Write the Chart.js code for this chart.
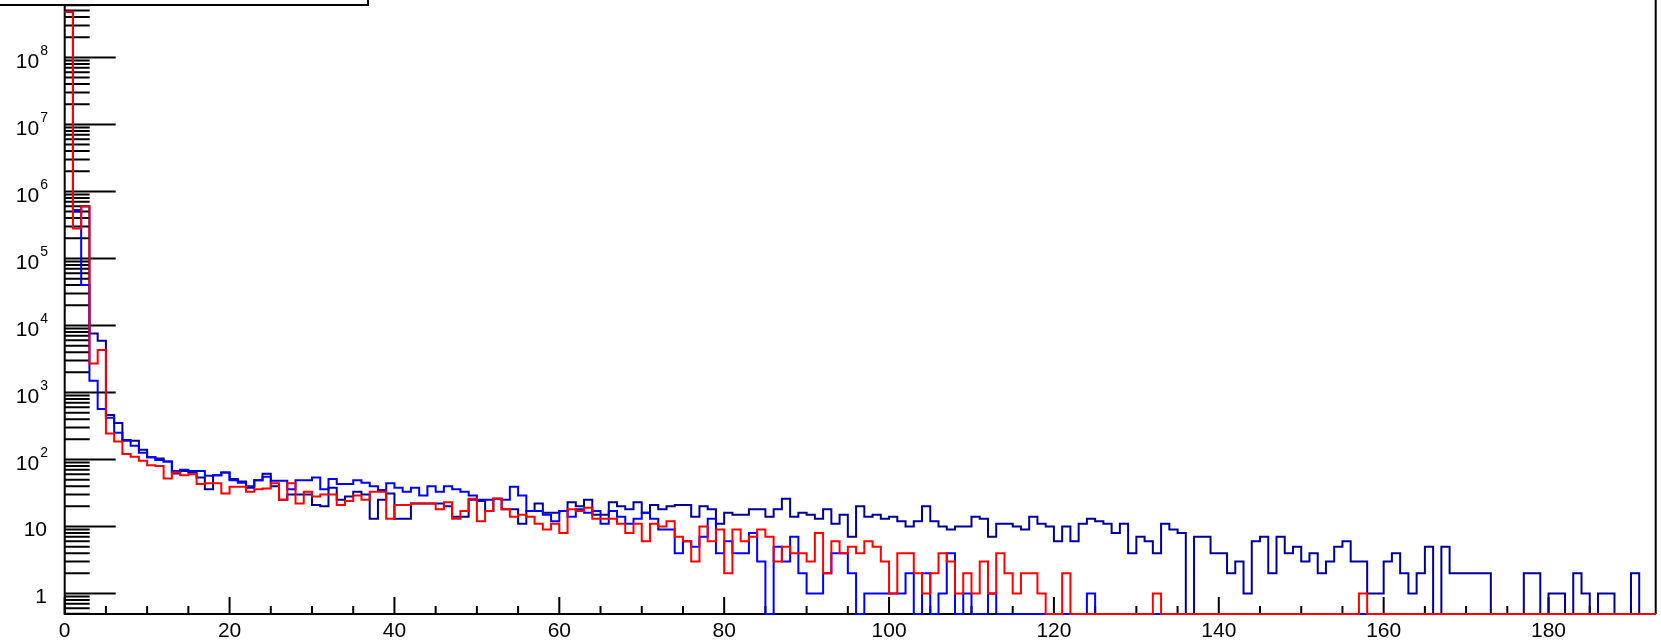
<!DOCTYPE html>
<html>
<head>
<meta charset="utf-8">
<script src="https://cdn.jsdelivr.net/npm/chart.js@4.4.1/dist/chart.umd.min.js"></script>
<style>
  html, body { margin: 0; padding: 0; background: #fff; }
  canvas { display: block; }
</style>
</head>
<body>
<canvas id="hist" width="1661" height="643"></canvas>
<script>
// one entry per unit-wide bin, bins 0 .. 192
const navyCounts = [
  4.8e8, 5e5, 6e5, 7600, 5900, 460, 350, 195, 190, 140,
  108, 103, 93, 62, 67, 64, 54, 36, 58, 64,
  51, 47, 38, 49, 61, 40, 25, 30, 30, 30,
  21, 20, 38, 25, 28, 33, 30, 13, 25, 31,
  13, 13, 22, 22, 22, 22, 20, 14, 14, 25,
  24, 17, 26, 18, 18, 11, 17, 22, 16, 16,
  17, 23, 20, 25, 15, 15, 23, 20, 18, 23,
  16, 21, 18, 20, 21, 21, 14, 20, 18, 11,
  16, 15, 15, 18, 18, 14, 18, 26, 14, 16,
  15, 13, 18, 11, 15, 7, 20, 14, 15, 13,
  14, 12, 10, 12, 20, 12, 10, 9, 10, 10,
  14, 13, 7, 11, 11, 10, 9, 14, 11, 10,
  6, 10, 6, 11, 13, 12, 11, 8, 11, 4,
  7, 6, 4, 11, 9, 8, 0, 7, 7, 4,
  4, 2, 3, 1, 6, 7, 2, 7, 4, 5,
  3, 4, 2, 3, 5, 6, 3, 3, 1, 1,
  3, 4, 2, 1, 2, 5, 0, 5, 2, 2,
  2, 2, 2, 0, 0, 0, 0, 2, 2, 0,
  1, 1, 0, 2, 1, 0, 1, 1, 0, 0,
  2, 0, 0
];

const blueCounts = [
  4.8e8, 5.3e5, 4e4, 1500, 565, 420, 250, 190, 160, 126,
  108, 98, 93, 67, 70, 67, 67, 57, 58, 64,
  49, 45, 40, 49, 55, 48, 48, 36, 49, 49,
  54, 36, 51, 43, 43, 49, 45, 40, 35, 44,
  38, 33, 38, 29, 40, 33, 40, 36, 33, 29,
  25, 25, 26, 25, 39, 29, 17, 17, 15, 12,
  17, 14, 18, 16, 17, 11, 17, 14, 11, 13,
  16, 13, 9, 9, 4, 6, 5, 7, 13, 4,
  6, 4, 4, 8, 3, 0, 5, 3, 7, 2,
  1, 1, 2, 4, 4, 2, 0, 1, 1, 1,
  1, 1, 2, 0, 2, 0, 1, 4, 0, 1,
  0, 0, 1, 0, 0, 0, 0, 0, 0, 0,
  0, 0, 0, 0, 1, 0, 0, 0, 0, 0,
  0, 0, 0, 0, 0, 0, 0, 0, 0, 0,
  0, 0, 0, 0, 0, 0, 0, 0, 0, 0,
  0, 0, 0, 0, 0, 0, 0, 0, 0, 0,
  0, 0, 0, 0, 0, 0, 0, 0, 0, 0,
  0, 0, 0, 0, 0, 0, 0, 0, 0, 0,
  0, 0, 0, 0, 0, 0, 0, 0, 0, 0,
  0, 0, 0
];

const redCounts = [
  4.8e8, 2.8e5, 6e5, 2700, 4300, 245, 185, 121, 110, 96,
  82, 80, 52, 64, 58, 60, 43, 44, 44, 31,
  39, 39, 33, 36, 37, 44, 25, 44, 22, 33,
  28, 30, 30, 21, 24, 29, 25, 33, 33, 13,
  21, 21, 22, 22, 22, 18, 23, 13, 17, 26,
  12, 17, 26, 18, 14, 15, 14, 11, 9, 11,
  8, 18, 17, 19, 13, 13, 13, 11, 8, 11,
  6, 11, 10, 12, 7, 6, 3, 10, 6, 9,
  2, 9, 6, 7, 9, 7, 3, 5, 4, 4,
  3, 8, 2, 6, 4, 5, 4, 6, 5, 3,
  1, 4, 4, 2, 1, 2, 4, 3, 1, 2,
  1, 3, 1, 4, 2, 1, 2, 2, 1, 0,
  0, 2, 0, 0, 0, 0, 0, 0, 0, 0,
  0, 0, 1, 0, 0, 0, 0, 0, 0, 0,
  0, 0, 0, 0, 0, 0, 0, 0, 0, 0,
  0, 0, 0, 0, 0, 0, 0, 1, 0, 0,
  0, 0, 0, 0, 0, 0, 0, 0, 0, 0,
  0, 0, 0, 0, 0, 0, 0, 0, 0, 0,
  0, 0, 0, 0, 0, 0, 0, 0, 0, 0,
  0, 0, 0
];

const xTickLabels = [0, 20, 40, 60, 80, 100, 120, 140, 160, 180];
const yTickExponents = [0, 1, 2, 3, 4, 5, 6, 7, 8];

const X_MIN = 0;
const X_MAX = 193;
const Y_MIN = 0.494;
const Y_MAX = 7.2e8;
const FONT = "'Liberation Sans', Arial, Helvetica, sans-serif";

// ROOT draws empty bins on the lower frame edge
function toSteps(counts) {
  const pts = counts.map((v, i) => ({ x: i, y: v > 0 ? v : Y_MIN }));
  const last = counts[counts.length - 1];
  pts.push({ x: counts.length, y: last > 0 ? last : Y_MIN });
  return pts;
}

// axis frame, inward ticks and labels, ROOT style
const rootFrame = {
  id: 'rootFrame',
  beforeDatasetsDraw(chart) {
    const { ctx, chartArea: a } = chart;
    const xs = chart.scales.x, ys = chart.scales.y;
    ctx.save();
    ctx.strokeStyle = '#000';
    ctx.lineWidth = 2;

    ctx.beginPath();
    ctx.moveTo(a.left, a.top);
    ctx.lineTo(a.left, a.bottom);
    ctx.lineTo(a.right, a.bottom);
    ctx.moveTo(a.right, a.top);
    ctx.lineTo(a.right, a.bottom);
    ctx.stroke();

    ctx.beginPath();
    for (let v = X_MIN; v <= X_MAX; v += 5) {
      const px = xs.getPixelForValue(v);
      const len = v % 20 === 0 ? 17 : 8;
      ctx.moveTo(px, a.bottom);
      ctx.lineTo(px, a.bottom - len);
    }
    for (let d = -1; d <= 8; d++) {
      for (let m = 1; m <= 9; m++) {
        const v = m * Math.pow(10, d);
        if (v < Y_MIN || v > Y_MAX) continue;
        const py = ys.getPixelForValue(v);
        ctx.moveTo(a.left, py);
        ctx.lineTo(a.left + (m === 1 ? 51 : 25), py);
      }
    }
    ctx.stroke();

    ctx.fillStyle = '#000';
    ctx.font = '21px ' + FONT;
    ctx.textAlign = 'center';
    ctx.textBaseline = 'alphabetic';
    xTickLabels.forEach(v => {
      ctx.fillText(String(v), xs.getPixelForValue(v), a.bottom + 23);
    });

    ctx.textAlign = 'right';
    yTickExponents.forEach(e => {
      const py = ys.getPixelForValue(Math.pow(10, e));
      if (e === 0 || e === 1) {
        ctx.font = '21px ' + FONT;
        ctx.fillText(e === 0 ? '1' : '10', 47, py + 9.5);
      } else {
        ctx.font = '14px ' + FONT;
        const sup = String(e);
        const w = ctx.measureText(sup).width;
        ctx.fillText(sup, 48, py - 2);
        ctx.font = '21px ' + FONT;
        ctx.fillText('10', 48 - w - 1, py + 10.5);
      }
    });
    ctx.restore();
  },
  afterDatasetsDraw(chart) {
    // legend box, mostly outside the picture
    const { ctx } = chart;
    ctx.save();
    ctx.fillStyle = '#fff';
    ctx.fillRect(-5, -5, 373, 10);
    ctx.strokeStyle = '#000';
    ctx.lineWidth = 2;
    ctx.strokeRect(-5, -5, 373, 10);
    ctx.restore();
  }
};

const histStyle = {
  stepped: true,
  fill: false,
  borderWidth: 2,
  pointRadius: 0,
  pointHoverRadius: 0,
  clip: false
};

new Chart(document.getElementById('hist'), {
  type: 'line',
  data: {
    datasets: [
      Object.assign({ label: 'navy', data: toSteps(navyCounts), borderColor: '#000099', order: 2 }, histStyle),
      Object.assign({ label: 'blue', data: toSteps(blueCounts), borderColor: '#0000ff', order: 1 }, histStyle),
      Object.assign({ label: 'red', data: toSteps(redCounts), borderColor: '#ff0000', order: 0 }, histStyle)
    ]
  },
  options: {
    responsive: false,
    animation: false,
    devicePixelRatio: 1,
    layout: { padding: { left: 64.7, right: 5.3, top: 0, bottom: 29 } },
    scales: {
      x: { type: 'linear', min: X_MIN, max: X_MAX, display: false },
      y: { type: 'logarithmic', min: Y_MIN, max: Y_MAX, display: false }
    },
    plugins: {
      legend: { display: false },
      tooltip: { enabled: false }
    }
  },
  plugins: [rootFrame]
});
</script>
</body>
</html>
